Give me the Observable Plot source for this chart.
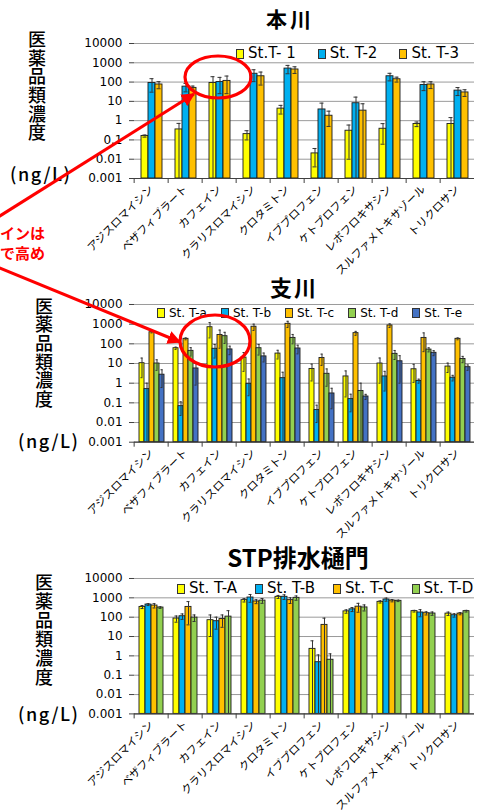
<!DOCTYPE html>
<html>
<head>
<meta charset="utf-8">
<script src="https://cdn.jsdelivr.net/npm/d3@7"></script>
<script src="https://cdn.jsdelivr.net/npm/@observablehq/plot@0.6"></script>
<style>
  html, body { margin: 0; padding: 0; background: #fff; overflow: hidden; }
  #page { position: relative; width: 478px; height: 812px; overflow: hidden; }
  .panel { position: absolute; left: 0; }
  .title { position: absolute; font-family: "Noto Sans CJK JP"; font-weight: 700; white-space: nowrap; line-height: 1; transform: translateX(-50%); color: #000; }
  .ylab { position: absolute; writing-mode: vertical-rl; font-family: "Noto Sans CJK JP"; font-weight: 500; font-size: 18px; line-height: 1; color: #000; }
  .unit { position: absolute; font-family: "Noto Sans CJK JP"; font-weight: 500; font-size: 18px; letter-spacing: 1.5px; line-height: 1; white-space: nowrap; color: #000; }
  .legend { position: absolute; display: flex; align-items: center; font-family: "DejaVu Sans"; white-space: nowrap; line-height: 1; color: #000; }
  .legend .item { display: flex; align-items: center; }
  .legend .sw { display: inline-block; width: 6px; height: 8px; border: 1px solid #333; margin-right: 4px; }
  #notes { position: absolute; left: 0; top: 0; pointer-events: none; }
</style>
</head>
<body>
<div id="page"></div>
<script>
// Pharmaceutical concentrations (ng/L), mean and error per station
const categories = ["アジスロマイシン", "ベザフィブラート", "カフェイン", "クラリスロマイシン", "クロタミトン",
  "イブプロフェン", "ケトプロフェン", "レボフロキサシン", "スルファメトキサゾール", "トリクロサン"];
const yTicks = [0.001, 0.01, 0.1, 1, 10, 100, 1000, 10000];

// 本川
const mainStations = ["St.T- 1", "St. T-2", "St. T-3"];
const mainT1 = [0.16, 0.35, 90, 0.2, 4.2, 0.02, 0.3, 0.38, 0.67, 0.67];
const mainT2 = [90, 58, 100, 270, 500, 3.8, 8, 200, 70, 36];
const mainT3 = [75, 50, 115, 200, 450, 1.8, 3.3, 140, 75, 29];
const mainT1Err = [0.02, 0.37, 100, 0.1, 2, 0.016, 0.29, 0.32, 0.18, 0.77];
const mainT2Err = [60, 27, 75, 165, 230, 4.3, 8.6, 85, 34, 16];
const mainT3Err = [30, 12, 90, 130, 170, 1.3, 4.2, 40, 29, 11];
const mainColors = ["#FFFF00", "#00B0F0", "#FFC000"];

// 支川
const tribStations = ["St. T-a", "St. T-b", "St. T-c", "St. T-d", "St. T-e"];
const tribTa = [10.4, 60, 700, 20, 32, 5.3, 2.2, 10, 5.1, 7];
const tribTb = [0.5, 0.068, 56, 0.93, 1.8, 0.043, 0.155, 2.2, 1.3, 1.9];
const tribTc = [390, 180, 280, 740, 1040, 19, 350, 860, 200, 180];
const tribTd = [10, 44, 245, 60, 200, 3, 0.4, 31, 51, 17];
const tribTe = [2.7, 5.6, 52, 23, 58, 0.3, 0.21, 13, 35, 6.5];
const tribTaErr = [8.5, 8, 500, 16, 15, 4, 2, 9, 4, 3.5];
const tribTbErr = [0.5, 0.045, 37, 0.7, 1.8, 0.033, 0.12, 1.8, 0.3, 0.6];
const tribTcErr = [30, 20, 220, 260, 360, 11, 80, 180, 160, 20];
const tribTdErr = [5.5, 20, 140, 33, 100, 2.3, 0.6, 15, 12, 6];
const tribTeErr = [2.1, 4.8, 24, 11, 27, 0.25, 0.06, 12, 10, 2];
const tribColors = ["#FFFF00", "#00B0F0", "#FFC000", "#92D050", "#4472C4"];

// STP排水樋門
const stpStations = ["St. T-A", "St. T-B", "St. T-C", "St. T-D"];
const stpTA = [340, 85, 70, 760, 1130, 2.3, 200, 620, 205, 153];
const stpTB = [450, 112, 62, 1040, 1130, 0.47, 255, 820, 175, 126];
const stpTC = [400, 340, 80, 650, 760, 40, 350, 720, 160, 153];
const stpTD = [315, 95, 107, 720, 1000, 0.63, 320, 700, 155, 205];
const stpTAErr = [60, 30, 60, 150, 200, 3.7, 40, 80, 20, 30];
const stpTBErr = [50, 35, 38, 450, 300, 0.65, 60, 150, 70, 25];
const stpTCErr = [100, 300, 50, 150, 250, 49, 170, 100, 30, 20];
const stpTDErr = [30, 35, 110, 200, 250, 0.64, 110, 60, 30, 20];
const stpColors = ["#FFFF00", "#00B0F0", "#FFC000", "#92D050"];

const FLOOR = 0.001;
const axisColor = "#404040";
const W = 478, ML = 130, MR = 1;
const halfStep = (W - ML - MR) / categories.length / 2;

function toRows(stations, values, errors) {
  const rows = [];
  categories.forEach((cat, i) => {
    stations.forEach((s, k) => {
      rows.push({cat, station: s, value: values[k][i], err: errors[k][i]});
    });
  });
  return rows;
}

const page = document.getElementById("page");

function addDiv(cls, text, css) {
  const d = document.createElement("div");
  d.className = cls;
  if (text != null) d.textContent = text;
  Object.assign(d.style, css);
  page.appendChild(d);
  return d;
}

function panel(opts) {
  const {stations, values, errors, colors, top, plotHeight, padOuter} = opts;
  const rows = toRows(stations, values, errors);
  const marginTop = 14, marginBottom = 100;
  const chart = Plot.plot({
    width: W,
    height: marginTop + plotHeight + marginBottom,
    marginLeft: ML,
    marginRight: MR,
    marginTop,
    marginBottom,
    style: {fontFamily: "DejaVu Sans", fontSize: "12px", color: "#000", background: "transparent"},
    fx: {domain: categories, padding: 0, label: null},
    x: {domain: stations, paddingInner: 0, paddingOuter: padOuter, axis: null},
    y: {type: "log", domain: [FLOOR, 10000], label: null},
    color: {domain: stations, range: colors},
    marks: [
      Plot.gridY(yTicks, {stroke: "#9a9a9a", strokeOpacity: 1, strokeWidth: 1}),
      Plot.barY(rows, {fx: "cat", x: "station", y1: FLOOR, y2: "value", fill: "station", stroke: "#1a1a1a", strokeWidth: 0.9}),
      Plot.ruleX(rows, {fx: "cat", x: "station", y1: d => Math.max(d.value - d.err, FLOOR), y2: d => d.value + d.err, stroke: "#333", strokeWidth: 1}),
      Plot.tickY(rows, {fx: "cat", x: "station", y: d => d.value + d.err, stroke: "#333", strokeWidth: 1, inset: 1.5}),
      Plot.tickY(rows.filter(d => d.value - d.err > FLOOR), {fx: "cat", x: "station", y: d => d.value - d.err, stroke: "#333", strokeWidth: 1, inset: 1.5}),
      // category axis line along the floor
      Plot.ruleY([FLOOR], {stroke: axisColor, strokeWidth: 1.2}),
      // value axis line, drawn in the first category only at its left edge
      Plot.ruleX([categories[0]], {fx: d => d, dx: -halfStep, stroke: axisColor, strokeWidth: 1.2}),
      Plot.axisY({ticks: yTicks, tickFormat: d => String(d), tickSize: 5, tickPadding: 7, stroke: axisColor, label: null}),
      // tick marks between categories
      Plot.axisFx({anchor: "bottom", tickSize: 5, tickFormat: () => "", dx: -halfStep, stroke: axisColor, label: null}),
      Plot.axisFx({anchor: "bottom", tickRotate: -45, tickSize: 0, tickPadding: 9, label: null, fontFamily: "Noto Sans CJK JP", fontSize: 11})
    ]
  });
  chart.classList.add("panel");
  chart.style.top = top + "px";
  page.appendChild(chart);
}

function legend(stations, colors, css, fontSize, gap) {
  const lg = addDiv("legend", null, Object.assign({fontSize: fontSize + "px"}, css));
  stations.forEach((s, k) => {
    const it = document.createElement("span");
    it.className = "item";
    it.style.marginRight = gap + "px";
    const sw = document.createElement("span");
    sw.className = "sw";
    sw.style.background = colors[k];
    it.appendChild(sw);
    it.appendChild(document.createTextNode(s));
    lg.appendChild(it);
  });
}

// 本川
panel({stations: mainStations, values: [mainT1, mainT2, mainT3], errors: [mainT1Err, mainT2Err, mainT3Err],
  colors: mainColors, top: 29, plotHeight: 135, padOuter: 0.8});
addDiv("title", "本川", {left: "290px", top: "8px", fontSize: "21px", letterSpacing: "3px"});
addDiv("ylab", "医薬品類濃度", {left: "28px", top: "30px", letterSpacing: "0.7px"});
addDiv("unit", "(ng/L)", {left: "10px", top: "164px"});
legend(mainStations, mainColors, {left: "236px", top: "46px"}, 15, 22);

// 支川
panel({stations: tribStations, values: [tribTa, tribTb, tribTc, tribTd, tribTe],
  errors: [tribTaErr, tribTbErr, tribTcErr, tribTdErr, tribTeErr],
  colors: tribColors, top: 290, plotHeight: 137.7, padOuter: 0.6});
addDiv("title", "支川", {left: "294px", top: "275px", fontSize: "22px", letterSpacing: "2px"});
addDiv("ylab", "医薬品類濃度", {left: "35px", top: "297px", letterSpacing: "0.6px"});
addDiv("unit", "(ng/L)", {left: "18px", top: "431px"});
legend(tribStations, tribColors, {left: "157px", top: "307px"}, 12, 14);

// STP排水樋門
panel({stations: stpStations, values: [stpTA, stpTB, stpTC, stpTD], errors: [stpTAErr, stpTBErr, stpTCErr, stpTDErr],
  colors: stpColors, top: 564, plotHeight: 135.4, padOuter: 0.57});
addDiv("title", "STP排水樋門", {left: "298px", top: "545px", fontSize: "24px"});
addDiv("ylab", "医薬品類濃度", {left: "35px", top: "573px", letterSpacing: "1px"});
addDiv("unit", "(ng/L)", {left: "18px", top: "704px"});
legend(stpStations, stpColors, {left: "177px", top: "581px"}, 15, 18);

// Red annotation: caffeine is high in both rivers
const notes = d3.select(page).append("svg").attr("id", "notes").attr("width", 478).attr("height", 812);
notes.append("defs").append("marker")
  .attr("id", "head").attr("viewBox", "0 0 10 10").attr("refX", 9).attr("refY", 5)
  .attr("markerWidth", 4.5).attr("markerHeight", 4.5).attr("orient", "auto")
  .append("path").attr("d", "M0,0L10,5L0,10Z").attr("fill", "#FF0000");
notes.append("ellipse").attr("cx", 218).attr("cy", 77).attr("rx", 33).attr("ry", 21)
  .attr("fill", "none").attr("stroke", "#FF0000").attr("stroke-width", 3.2);
notes.append("ellipse").attr("cx", 215).attr("cy", 341).attr("rx", 35).attr("ry", 26)
  .attr("fill", "none").attr("stroke", "#FF0000").attr("stroke-width", 3.2);
notes.append("line").attr("x1", -5).attr("y1", 219).attr("x2", 194).attr("y2", 94)
  .attr("stroke", "#FF0000").attr("stroke-width", 3).attr("marker-end", "url(#head)");
notes.append("line").attr("x1", -5).attr("y1", 266).attr("x2", 180).attr("y2", 342)
  .attr("stroke", "#FF0000").attr("stroke-width", 3).attr("marker-end", "url(#head)");
notes.append("text").attr("x", 0).attr("y", 239).text("インは")
  .attr("fill", "#FF0000").attr("font-family", "Noto Sans CJK JP").attr("font-weight", 700).attr("font-size", 15);
notes.append("text").attr("x", 0).attr("y", 259).text("で高め")
  .attr("fill", "#FF0000").attr("font-family", "Noto Sans CJK JP").attr("font-weight", 700).attr("font-size", 15);
</script>
</body>
</html>
